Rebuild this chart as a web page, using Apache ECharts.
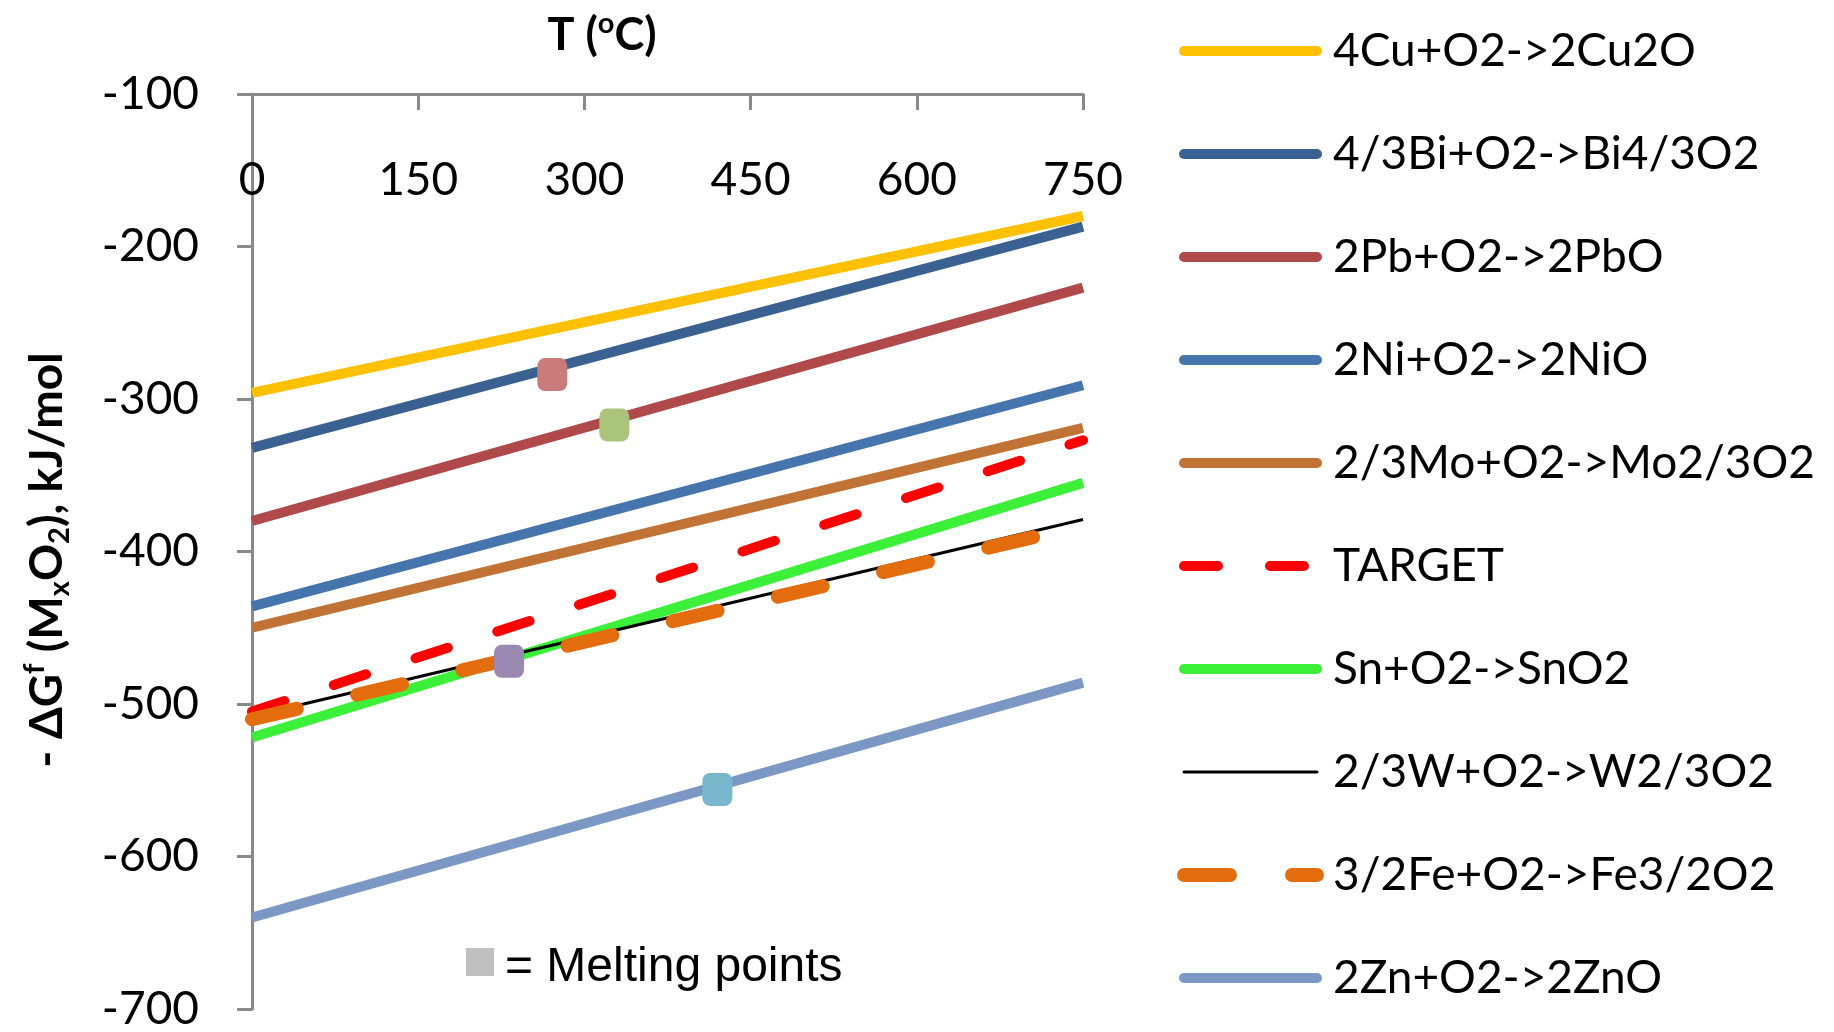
<!DOCTYPE html>
<html>
<head>
<meta charset="utf-8">
<script src="https://cdn.jsdelivr.net/npm/echarts@6/dist/echarts.min.js"></script>
<style>
  html, body { margin: 0; padding: 0; background: #fff; }
  #chart { width: 1834px; height: 1032px; }
</style>
</head>
<body>
<div id="chart"></div>
<script>
// ---- data ----
const temps = [0, 750];
const seriesNames = ['4Cu+O2->2Cu2O', '4/3Bi+O2->Bi4/3O2', '2Pb+O2->2PbO', '2Ni+O2->2NiO',
  '2/3Mo+O2->Mo2/3O2', 'TARGET', 'Sn+O2->SnO2', '2/3W+O2->W2/3O2', '3/2Fe+O2->Fe3/2O2', '2Zn+O2->2ZnO'];
const cuVals = [-296, -180];
const biVals = [-332, -187];
const pbVals = [-380, -227];
const niVals = [-436, -291];
const moVals = [-450, -319];
const targetVals = [-505, -327];
const snVals = [-522, -355];
const wVals = [-508, -379];
const feVals = [-510, -383];
const znVals = [-640, -486];
const meltNames = ['Bi melting', 'Pb melting', 'Sn melting', 'Zn melting'];
const meltTemps = [271, 327, 232, 420];
const meltVals = [-284, -317, -472, -556];
const xTicks = [0, 150, 300, 450, 600, 750];
const yTicks = [-700, -600, -500, -400, -300, -200, -100];

// ---- styles ----
const lineStyles = [
  { color: '#FFC000', width: 10, type: 'solid', cap: 'butt' },
  { color: '#3A6191', width: 10, type: 'solid', cap: 'butt' },
  { color: '#B0494A', width: 10, type: 'solid', cap: 'butt' },
  { color: '#4675AE', width: 10, type: 'solid', cap: 'butt' },
  { color: '#C07334', width: 10, type: 'solid', cap: 'butt' },
  { color: '#FF0000', width: 10, type: [34, 52], cap: 'round' },
  { color: '#3CF03A', width: 10, type: 'solid', cap: 'butt' },
  { color: '#000000', width: 3, type: 'solid', cap: 'butt' },
  { color: '#E36C0C', width: 14, type: [46, 62], cap: 'round' },
  { color: '#7B98C5', width: 10, type: 'solid', cap: 'butt' }
];
const meltColors = ['#C97B7B', '#AAC47E', '#9A88B0', '#79B8CC'];

const allVals = [cuVals, biVals, pbVals, niVals, moVals, targetVals, snVals, wVals, feVals, znVals];

const series = allVals.map(function (vals, i) {
  return {
    name: seriesNames[i],
    type: 'line',
    symbol: 'none',
    data: temps.map(function (t, k) { return [t, vals[k]]; }),
    lineStyle: lineStyles[i],
    color: lineStyles[i].color,
    z: 2 + i * 0.01
  };
});
series.push({
  name: 'Melting points',
  type: 'scatter',
  symbol: 'roundRect',
  symbolSize: [30, 33],
  z: 5,
  data: meltTemps.map(function (t, k) {
    return { name: meltNames[k], value: [t, meltVals[k]], itemStyle: { color: meltColors[k], opacity: 1 } };
  })
});

const FONT = 'Lato, "Open Sans", sans-serif';
const axisGray = '#898989';

const chart = echarts.init(document.getElementById('chart'));
chart.setOption({
  animation: false,
  backgroundColor: '#ffffff',
  grid: { left: 252, top: 94, width: 831, height: 917, containLabel: false },
  xAxis: {
    type: 'value', position: 'top', min: xTicks[0], max: xTicks[xTicks.length - 1], interval: 150,
    axisLine: { onZero: false, lineStyle: { color: axisGray, width: 3 } },
    axisTick: { inside: true, length: 16, lineStyle: { color: axisGray, width: 3 } },
    axisLabel: { inside: true, margin: 63, fontSize: 46, fontFamily: FONT, color: '#000' },
    splitLine: { show: false }
  },
  yAxis: {
    type: 'value', min: yTicks[0], max: yTicks[yTicks.length - 1], interval: 100,
    axisLine: { onZero: false, lineStyle: { color: axisGray, width: 3 } },
    axisTick: { length: 15, lineStyle: { color: axisGray, width: 3 } },
    axisLabel: { margin: 53, fontSize: 46, fontFamily: FONT, color: '#000' },
    splitLine: { show: false }
  },
  legend: {
    orient: 'vertical', left: 1172, top: 21,
    data: seriesNames,
    itemWidth: 133, itemHeight: 14, itemGap: 53,
    selectedMode: false,
    itemStyle: { opacity: 0 },
    lineStyle: { width: 'inherit', cap: 'round' },
    textStyle: { fontSize: 46, fontFamily: FONT, color: '#000', lineHeight: 50, padding: [0, 0, 0, 11] }
  },
  graphic: [
    {
      type: 'text', x: 602, y: 35,
      style: {
        text: '{b|T (}{s|o}{b|C)}',
        align: 'center', verticalAlign: 'middle',
        rich: {
          b: { fontSize: 45, fontWeight: 'bold', fontFamily: FONT, fill: '#000', lineHeight: 52 },
          s: { fontSize: 29, fontWeight: 'bold', fontFamily: FONT, fill: '#000', lineHeight: 28, verticalAlign: 'top' }
        }
      }
    },
    {
      type: 'text', x: 47, y: 560, rotation: Math.PI / 2,
      style: {
        text: '{b|- ΔG}{s|f}{b| (M}{u|x}{b|O}{u|2}{b|), kJ/mol}',
        align: 'center', verticalAlign: 'middle',
        rich: {
          b: { fontSize: 46, fontWeight: 'bold', fontFamily: FONT, fill: '#000', lineHeight: 54 },
          s: { fontSize: 29, fontWeight: 'bold', fontFamily: FONT, fill: '#000', lineHeight: 30, verticalAlign: 'top' },
          u: { fontSize: 29, fontWeight: 'bold', fontFamily: FONT, fill: '#000', lineHeight: 30, verticalAlign: 'bottom' }
        }
      }
    },
    {
      type: 'rect', shape: { x: 466, y: 948, width: 28, height: 28 },
      style: { fill: '#C0C0C0' }
    },
    {
      type: 'text', x: 505, y: 968,
      style: {
        text: '= Melting points', fontSize: 48, fontFamily: '"Liberation Sans", Arial, sans-serif',
        fill: '#000', align: 'left', verticalAlign: 'middle'
      }
    }
  ],
  series: series
});
</script>
</body>
</html>
